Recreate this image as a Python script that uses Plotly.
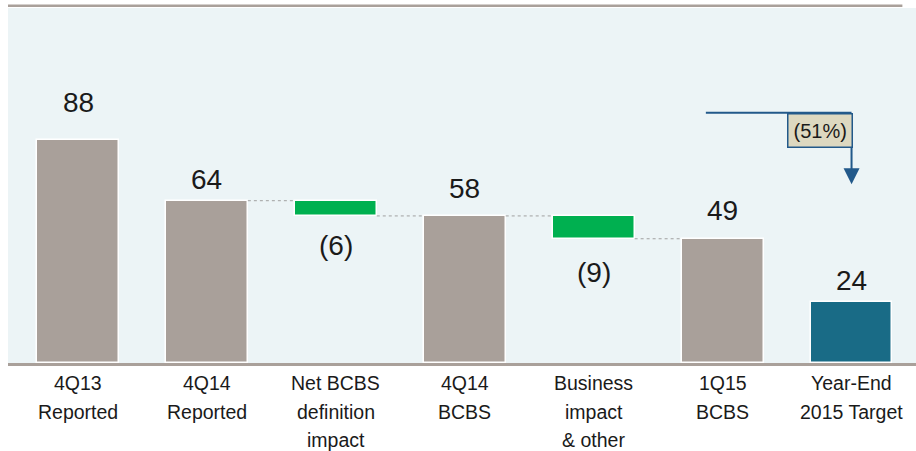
import plotly.graph_objects as go

# Bridge steps (units: $bn)
categories = ["4Q13<br>Reported", "4Q14<br>Reported", "Net BCBS<br>definition<br>impact",
              "4Q14<br>BCBS", "Business<br>impact<br>& other", "1Q15<br>BCBS",
              "Year-End<br>2015 Target"]
values = [88, 64, -6, 58, -9, 49, 24]
kinds = ["total", "total", "delta", "total", "delta", "total", "target"]
target_change = "(51%)"

GREY = "#a9a09a"
GREEN = "#00b050"
TEAL = "#196b86"
BG = "#ecf4f6"
INK = "#1a1a1a"
FONT = "Liberation Sans"

# pixel gap between each bar edge and the centre of its value label
label_gap = [37, 21, 30, 27, 34, 28, 22]

x = list(range(len(categories)))
bases, heights, colors, levels = [], [], [], []
level = 0
for v, k in zip(values, kinds):
    if k == "delta":
        bases.append(level + v)
        heights.append(-v)
        colors.append(GREEN)
        level = level + v
    else:
        bases.append(0)
        heights.append(v)
        colors.append(TEAL if k == "target" else GREY)
        level = v
    levels.append(level)

BAR_W = 0.635

fig = go.Figure()
fig.add_trace(go.Bar(
    x=x, y=heights, base=bases, width=BAR_W,
    marker=dict(color=colors, line=dict(color="white", width=1.5)),
    hoverinfo="skip", showlegend=False,
))

annotations = []
shapes = []
for i, (v, k) in enumerate(zip(values, kinds)):
    if k == "delta":
        annotations.append(dict(x=i, y=bases[i], text=f"({-v})", showarrow=False,
                                yanchor="middle", yshift=-label_gap[i],
                                font=dict(size=28, color=INK, family=FONT)))
    else:
        annotations.append(dict(x=i, y=v, text=str(v), showarrow=False,
                                yanchor="middle", yshift=label_gap[i],
                                font=dict(size=28, color=INK, family=FONT)))

# category labels, one annotation per text line for looser line spacing
for i, cat in enumerate(categories):
    for j, line in enumerate(cat.split("<br>")):
        annotations.append(dict(x=i, y=0, xref="x", yref="paper", text=line,
                                showarrow=False, yanchor="middle",
                                yshift=-(20 + 28.5 * j),
                                font=dict(size=19.5, color=INK, family=FONT)))

# dotted connectors between consecutive bridge steps
for i in range(1, len(values)):
    if kinds[i] == "target":
        continue
    if kinds[i] == "delta" or kinds[i - 1] == "delta":
        y_conn = levels[i - 1]
        shapes.append(dict(type="line", xref="x", yref="y",
                           x0=i - 1 + BAR_W / 2, x1=i - BAR_W / 2,
                           y0=y_conn, y1=y_conn,
                           line=dict(color="#a0a0a0", width=1, dash="dot")))

# change-to-target callout
arrow_y = 98.7
x_start = len(values) - 2.13
x_end = len(values) - 1
shapes.append(dict(type="line", xref="x", yref="y", x0=x_start, x1=x_end,
                   y0=arrow_y, y1=arrow_y, line=dict(color="#22598a", width=2)))
annotations.append(dict(x=x_end, y=70.5, ax=x_end, ay=arrow_y, xref="x", yref="y",
                        axref="x", ayref="y", text="", showarrow=True,
                        arrowhead=2, arrowsize=1.6, arrowwidth=2, arrowcolor="#22598a"))
annotations.append(dict(x=x_end, y=arrow_y, xref="x", yref="y", text=target_change,
                        showarrow=False, xanchor="right", yanchor="top",
                        bgcolor="#ddd8c0", bordercolor="#22598a", borderwidth=1.5,
                        borderpad=5, xshift=1,
                        font=dict(size=20, color=INK, family=FONT)))

# top rule
shapes.append(dict(type="line", xref="paper", yref="paper", x0=0, x1=0.985,
                   y0=1.006, y1=1.006, line=dict(color="#a9a09a", width=2.5)))

fig.update_layout(
    width=916, height=451,
    margin=dict(l=8, r=0, t=8, b=88),
    paper_bgcolor="white", plot_bgcolor=BG,
    bargap=0,
    annotations=annotations, shapes=shapes,
    font=dict(family=FONT, color=INK),
    xaxis=dict(range=[-0.543, len(values) - 0.5], tickmode="array", tickvals=x,
               ticktext=[""] * len(x),
               showgrid=False, zeroline=False, showline=True, linecolor="#a9a09a",
               linewidth=2.5, ticks="", fixedrange=True),
    yaxis=dict(range=[0, 140], visible=False, showgrid=False, zeroline=False,
               fixedrange=True),
)

fig.write_html("out.html")
